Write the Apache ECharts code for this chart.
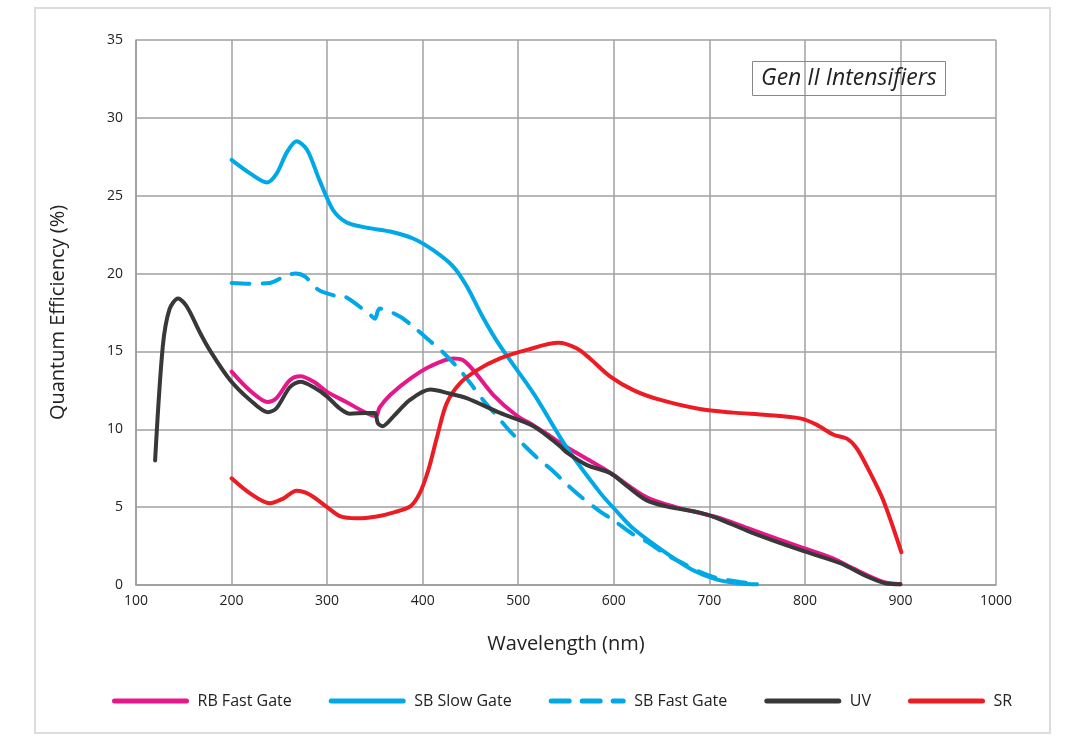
<!DOCTYPE html>
<html>
<head>
<meta charset="utf-8">
<script src="https://cdn.jsdelivr.net/npm/echarts@6/dist/echarts.min.js"></script>
<style>html,body{margin:0;padding:0;background:#fff;}#c{width:1080px;height:751px;}</style>
</head>
<body>
<div id="c"></div>
<script>
const seriesNames = ['RB Fast Gate', 'SB Slow Gate', 'SB Fast Gate', 'UV', 'SR'];
const xTicks = [100, 200, 300, 400, 500, 600, 700, 800, 900, 1000];
const yTicks = [0, 5, 10, 15, 20, 25, 30, 35];

const rbFastGate = [[200,13.7],[219,12.5],[238,11.75],[247,12.0],[261,13.15],[272,13.4],[286,13.05],[300,12.4],[320,11.75],[341,11.05],[351,10.85],[355,11.4],[366,12.2],[387,13.25],[408,14.05],[432,14.55],[442,14.45],[453,13.8],[474,12.2],[498,10.9],[516,10.25],[530,9.7],[551,8.85],[586,7.6],[600,7.05],[634,5.65],[663,5.03],[708,4.35],[743,3.58],[795,2.45],[830,1.7],[851,1.05],[882,0.2],[900,0.05]];
const sbSlowGate = [[200,27.3],[219,26.45],[237,25.85],[247,26.4],[258,27.8],[268,28.5],[279,27.95],[292,26.0],[306,24.1],[320,23.3],[341,22.95],[366,22.7],[390,22.25],[411,21.5],[432,20.45],[446,19.2],[463,17.2],[481,15.35],[516,12.3],[551,8.8],[586,5.9],[602,4.8],[620,3.65],[655,2.05],[683,0.95],[708,0.35],[732,0.1],[750,0.05]];
const sbFastGate = [[200,19.4],[218,19.35],[240,19.4],[258,19.9],[267,20.0],[277,19.8],[291,18.95],[310,18.55],[319,18.5],[327,18.2],[345,17.35],[350,17.1],[355,17.75],[376,17.25],[390,16.6],[408,15.65],[422,14.9],[439,13.8],[450,12.95],[463,11.9],[477,10.9],[491,9.9],[504,9.1],[521,8.1],[535,7.4],[552,6.4],[566,5.65],[584,4.8],[600,4.15],[619,3.3],[634,2.8],[655,1.95],[669,1.5],[690,0.85],[708,0.45],[732,0.2],[750,0.05]];
const uv = [[120,8.0],[128,15.3],[135,17.7],[144,18.4],[153,17.9],[167,16.2],[177,15.1],[198,13.2],[219,11.9],[238,11.1],[247,11.35],[261,12.7],[272,13.05],[286,12.7],[300,12.1],[313,11.35],[324,11.0],[341,11.05],[350,11.05],[353,10.4],[358,10.2],[369,10.8],[387,11.9],[408,12.55],[428,12.3],[446,12.0],[481,11.05],[516,10.2],[544,8.9],[551,8.5],[572,7.7],[596,7.2],[613,6.4],[634,5.45],[655,5.05],[690,4.65],[708,4.3],[743,3.4],[795,2.25],[837,1.4],[865,0.55],[885,0.1],[900,0.05]];
const sr = [[200,6.85],[219,5.9],[240,5.25],[254,5.55],[268,6.05],[282,5.8],[300,5.0],[314,4.4],[331,4.28],[352,4.4],[369,4.65],[387,5.05],[397,5.9],[406,7.4],[415,9.5],[425,11.65],[439,12.95],[457,13.8],[481,14.55],[509,15.1],[542,15.55],[561,15.2],[575,14.55],[596,13.4],[621,12.5],[648,11.9],[690,11.3],[725,11.07],[760,10.92],[795,10.7],[812,10.3],[830,9.65],[844,9.4],[854,8.8],[865,7.6],[882,5.45],[901,2.1]];

const seriesData = [rbFastGate, sbSlowGate, sbFastGate, uv, sr];
const colors = ['#e6178b', '#00a9e6', '#00a9e6', '#383838', '#ec1c24'];
const dashed = [false, false, true, false, false];

const font = '"Open Sans", "Noto Sans", sans-serif';
const chart = echarts.init(document.getElementById('c'), null, {renderer: 'canvas'});

chart.setOption({
  backgroundColor: '#fff',
  animation: false,
  title: {
    text: 'Gen II Intensifiers',
    left: 752, top: 61,
    padding: [4, 9, 4, 9],
    borderColor: '#888', borderWidth: 1,
    textStyle: {fontFamily: font, fontStyle: 'italic', fontWeight: 'normal', fontSize: 23, lineHeight: 27, color: '#222'}
  },
  graphic: [{
    type: 'rect', silent: true, z: -1,
    shape: {x: 35, y: 8, width: 1015, height: 725},
    style: {fill: 'none', stroke: '#dcdcdc', lineWidth: 2}
  }],
  legend: {
    data: seriesNames,
    left: 107, top: 688,
    itemWidth: 72, itemHeight: 20, itemGap: 37,
    itemStyle: {opacity: 0},
    lineStyle: {width: 5, cap: 'round'},
    textStyle: {fontFamily: font, fontSize: 16, color: '#222', padding: [0, 0, 0, 6]}
  },
  grid: {left: 136, right: 84, top: 40, bottom: 166, show: false},
  xAxis: {
    type: 'value', min: 100, max: 1000, interval: 100,
    name: 'Wavelength (nm)', nameLocation: 'middle', nameGap: 49,
    nameTextStyle: {fontFamily: font, fontSize: 20, color: '#222'},
    axisLine: {show: true, lineStyle: {color: '#9a9a9a', width: 1.5}},
    axisTick: {show: false},
    axisLabel: {fontFamily: font, fontSize: 14, color: '#222', margin: 9,
      formatter: v => xTicks.includes(v) ? String(v) : ''},
    splitLine: {show: true, lineStyle: {color: '#a0a0a0', width: 1.5}}
  },
  yAxis: {
    type: 'value', min: 0, max: 35, interval: 5,
    name: 'Quantum Efficiency (%)', nameLocation: 'middle', nameGap: 68,
    nameTextStyle: {fontFamily: font, fontSize: 20, color: '#222'},
    axisLine: {show: true, lineStyle: {color: '#9a9a9a', width: 1.5}},
    axisTick: {show: false},
    axisLabel: {fontFamily: font, fontSize: 14, color: '#222', margin: 13,
      formatter: v => yTicks.includes(v) ? String(v) : ''},
    splitLine: {show: true, lineStyle: {color: '#a0a0a0', width: 1.5}}
  },
  series: seriesNames.map((name, i) => ({
    name: name,
    type: 'line',
    data: seriesData[i],
    smooth: 0.3,
    symbol: 'none',
    z: i === 3 ? 4 : 3,
    itemStyle: {color: colors[i]},
    lineStyle: {color: colors[i], width: 4, type: dashed[i] ? [18, 13] : 'solid', cap: 'round'}
  }))
});
</script>
</body>
</html>
